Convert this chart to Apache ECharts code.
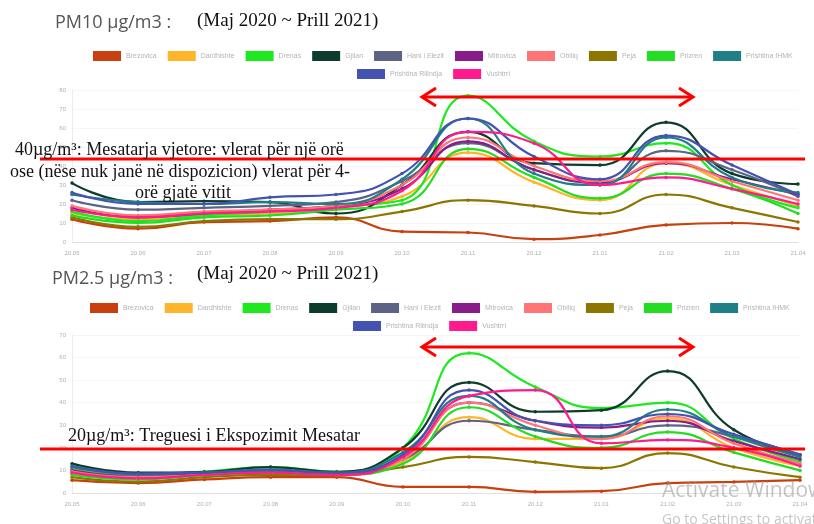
<!DOCTYPE html>
<html><head><meta charset="utf-8">
<script src="https://cdn.jsdelivr.net/npm/echarts@6/dist/echarts.min.js"></script>
<style>html,body{margin:0;padding:0;background:#fff}#c{width:814px;height:524px}</style>
</head><body><div id="c"></div>
<script>
const months = ["20.05","20.06","20.07","20.08","20.09","20.10","20.11","20.12","21.01","21.02","21.03","21.04"];
const stations = ["Brezovica","Dardhishte","Drenas","Gjilan","Hani i Elezit","Mitrovica","Obiliq","Peja","Prizren","Prishtina IHMK","Prishtina Rilindja","Vushtrri"];
const colors = ["#c8400f","#ffb52a","#1ee81e","#0d3b2e","#5c6384","#8a1c8a","#ff7474","#8c7600","#22dd22","#1f7f84","#4553b0","#ff1b8d"];
const yTicksPM10 = {min:0, max:80, interval:10};
const yTicksPM25 = {min:0, max:70, interval:10};

// PM10 values
const pm10_brezovica = [12,7,10.5,11,13,5.5,5,1.5,3.7,9,10,7];
const pm10_dardhishte = [15,12,14,15,18,24,47,31.5,22,41.5,30,19];
const pm10_drenas = [16,11,14,16,19,22,77,53,45,52,30,18];
const pm10_gjilan = [31,21,21.5,21,15,30,58,41.5,40.5,63,36,30.5];
const pm10_hani = [22,17,18,19,21,32,52,38,31,48,38,24];
const pm10_mitrovica = [18,13,15,17,19,28,53,38,31.5,41.5,33,25];
const pm10_obiliq = [19,14,16,17,19,30,55,40,32,42,32,22];
const pm10_peja = [13,8,11,12,12,16,22,19,15,25,18,10.5];
const pm10_prizren = [14,10,13,14,17,20,49,34,23,36,28,15];
const pm10_ihmk = [25,21,20,21,20,33,65,36,30,55,34,26];
const pm10_rilindja = [26,20,20,23.5,25,36,65,45,33,56,40.5,25];
const pm10_vushtrri = [17,13,15,16,18,27,58,52,30,34,28,20];

// PM2.5 values
const pm25_brezovica = [5.7,4.4,6,7,7,2.7,2.7,0.5,0.8,4.4,4.9,5.7];
const pm25_dardhishte = [8.5,6.5,8,9,8,14,33.6,24,24,33,20,12];
const pm25_drenas = [11,8,9.5,11.5,9.5,20,62,47,37.6,40,24,14];
const pm25_gjilan = [13,9,9.3,11.5,9.3,20,49,36,36.7,54,28,17];
const pm25_hani = [10,7.5,8.5,9,8.5,15,32,28,25,30,25,17];
const pm25_mitrovica = [10,7,8.5,9.5,8.5,16,40,32,29,32,23,15];
const pm25_obiliq = [9.5,7,8,9,8,15,40,30,24,34,22,13];
const pm25_peja = [7,5,7,8,8,11.5,16,13.7,11,17.7,11.5,7];
const pm25_prizren = [8,6,8,9,8,13,38,25,20,27,18,10];
const pm25_ihmk = [12,8.5,9,10.5,9,18,43,28,25,37,25,16];
const pm25_rilindja = [11.5,8.5,9,10,9,17,45.6,32,30,35,26,17];
const pm25_vushtrri = [9,6.5,8,9,8,16,43,45.6,22,23.5,20,12];

const pm10 = [pm10_brezovica,pm10_dardhishte,pm10_drenas,pm10_gjilan,pm10_hani,pm10_mitrovica,pm10_obiliq,pm10_peja,pm10_prizren,pm10_ihmk,pm10_rilindja,pm10_vushtrri];
const pm25 = [pm25_brezovica,pm25_dardhishte,pm25_drenas,pm25_gjilan,pm25_hani,pm25_mitrovica,pm25_obiliq,pm25_peja,pm25_prizren,pm25_ihmk,pm25_rilindja,pm25_vushtrri];

const chart = echarts.init(document.getElementById('c'));
const axisLbl = {fontSize:6, color:'#b0b0b0'};
function mkX(gi){return {type:'category', gridIndex:gi, data:months, boundaryGap:false,
  axisLine:{lineStyle:{color:'#e0e0e0'}}, axisTick:{show:false}, axisLabel:Object.assign({margin:8},axisLbl)};}
function mkY(gi,t){return {type:'value', gridIndex:gi, min:t.min, max:t.max, interval:t.interval,
  axisLine:{show:true,lineStyle:{color:'#ececec'}}, axisTick:{show:false},
  splitLine:{lineStyle:{color:'#f6f6f6'}}, axisLabel:Object.assign({margin:6},axisLbl)};}
const series = [];
stations.forEach((s,i)=>{
  series.push({name:s, type:'line', xAxisIndex:0, yAxisIndex:0, data:pm10[i], smooth:true,
    symbol:'circle', symbolSize:3.5, lineStyle:{width:2.2,color:colors[i]}, itemStyle:{color:colors[i]}});
  series.push({name:s, type:'line', xAxisIndex:1, yAxisIndex:1, data:pm25[i], smooth:true,
    symbol:'circle', symbolSize:3.5, lineStyle:{width:2.2,color:colors[i]}, itemStyle:{color:colors[i]}});
});
const legendBase = {itemWidth:28, itemHeight:10, itemGap:11, width:780, icon:'rect', textStyle:{fontSize:7, color:'#b4b4b4'}, selectedMode:false};
const red = '#ff0000';
function arrow(y){
  return [
    {type:'line', shape:{x1:422,y1:y,x2:693,y2:y}, style:{stroke:red,lineWidth:3}, z:100},
    {type:'polyline', shape:{points:[[436,y-9],[422,y],[436,y+9]]}, style:{stroke:red,lineWidth:3,fill:null}, z:100},
    {type:'polyline', shape:{points:[[679,y-9],[693,y],[679,y+9]]}, style:{stroke:red,lineWidth:3,fill:null}, z:100}
  ];
}
const serif = '"Liberation Serif","Times New Roman",serif';
chart.setOption({
  animation:false,
  backgroundColor:'#fff',
  color:colors,
  grid:[{left:72,right:16,top:90,height:152},{left:72,right:14,top:335,height:158}],
  xAxis:[mkX(0),mkX(1)],
  yAxis:[mkY(0,yTicksPM10),mkY(1,yTicksPM25)],
  legend:[
    Object.assign({left:88, top:46, data:stations.slice(0,10)},legendBase),
    Object.assign({left:352, top:64, data:stations.slice(10)},legendBase),
    Object.assign({left:85, top:298, data:stations.slice(0,10)},legendBase),
    Object.assign({left:348, top:316, data:stations.slice(10)},legendBase)
  ],
  series:series,
  graphic:[
    {type:'text', left:55, top:14, style:{text:'PM10 µg/m3 :', font:'18px "Open Sans",sans-serif', fill:'#555'}},
    {type:'text', left:197, top:12, style:{text:'(Maj 2020 ~ Prill 2021)', font:'19px '+serif, fill:'#111'}},
    {type:'text', left:52, top:270, style:{text:'PM2.5 µg/m3 :', font:'18px "Open Sans",sans-serif', fill:'#555'}},
    {type:'text', left:197, top:265, style:{text:'(Maj 2020 ~ Prill 2021)', font:'19px '+serif, fill:'#111'}},
    {type:'line', shape:{x1:40,y1:159,x2:805,y2:159}, style:{stroke:red,lineWidth:3}, z:100},
    {type:'line', shape:{x1:40,y1:449,x2:805,y2:449}, style:{stroke:red,lineWidth:3}, z:100},
    ...arrow(97), ...arrow(347),
    {type:'text', left:15, top:141, z:101, style:{text:'40µg/m³: Mesatarja vjetore: vlerat për një orë', font:'18px '+serif, fill:'#111'}},
    {type:'text', left:10, top:163, z:101, style:{text:'ose (nëse nuk janë në dispozicion) vlerat për 4-', font:'18px '+serif, fill:'#111'}},
    {type:'text', left:135, top:184, z:101, style:{text:'orë gjatë vitit', font:'18px '+serif, fill:'#111'}},
    {type:'text', left:68, top:427, z:101, style:{text:'20µg/m³: Treguesi i Ekspozimit Mesatar', font:'18px '+serif, fill:'#111'}},
    {type:'text', left:662, top:481, z:101, style:{text:'Activate Windows', font:'21px "Open Sans",sans-serif', fill:'rgba(150,150,150,0.55)'}},
    {type:'text', left:662, top:513, z:101, style:{text:'Go to Settings to activate Windows.', font:'14px "Open Sans",sans-serif', fill:'rgba(150,150,150,0.55)'}}
  ]
});
</script></body></html>
